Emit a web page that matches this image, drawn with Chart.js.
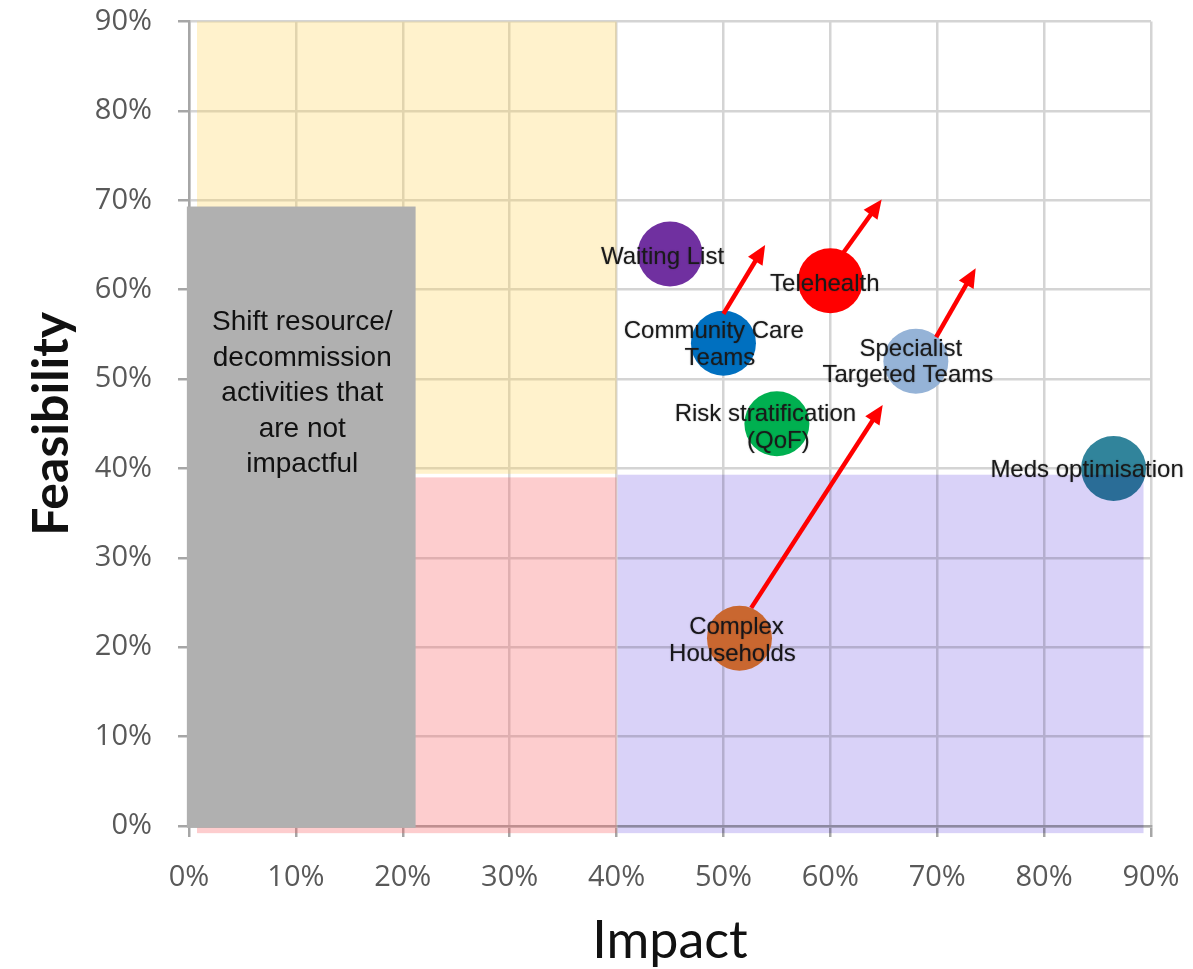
<!DOCTYPE html>
<html>
<head>
<meta charset="utf-8">
<title>Impact vs Feasibility</title>
<script src="https://cdn.jsdelivr.net/npm/chart.js@4.4.1/dist/chart.umd.min.js"></script>
<style>
  html, body { margin: 0; padding: 0; background: #ffffff; }
  #wrap { width: 1193px; height: 969px; }
</style>
</head>
<body>
<div id="wrap"><canvas id="matrix" width="1193" height="969"></canvas></div>
<script>
// ---- Data -----------------------------------------------------------------
const initiatives = ['Waiting List', 'Telehealth', 'Community Care Teams', 'Specialist Targeted Teams',
                     'Risk stratification (QoF)', 'Meds optimisation', 'Complex Households'];
const labelLines = [['Waiting List'], ['Telehealth'], ['Community Care', 'Teams'], ['Specialist', 'Targeted Teams'],
                    ['Risk stratification', '(QoF)'], ['Meds optimisation'], ['Complex', 'Households']];
const impact      = [45, 60, 50, 68, 55, 86.5, 51.5];   // % impact
const feasibility = [64, 61, 54, 52, 45, 40, 21];       // % feasibility

// Direction-of-travel arrows (start -> end, in % units)
const arrowFromImpact = [50.0, 61.2, 69.9, 52.6];
const arrowFromFeas   = [57.3, 64.1, 54.7, 24.4];
const arrowToImpact   = [53.9, 64.8, 73.6, 64.9];
const arrowToFeas     = [65.0, 70.1, 62.4, 47.1];

// Quadrant zones (in % units): low-impact/high-feasibility, low/low, high-impact/low-feasibility
const zoneImpactFrom = [0.75, 0.75, 40.1];
const zoneImpactTo   = [40.0, 40.0, 89.3];
const zoneFeasFrom   = [39.4, -0.8, -0.8];
const zoneFeasTo     = [90.0, 39.0, 39.3];

// Decommission panel (in % units) and its wording
const shiftImpact = [-0.2, 21.2];
const shiftFeas   = [-0.2, 69.3];
const shiftText   = ['Shift resource/', 'decommission', 'activities that', 'are not', 'impactful'];

const tickValues  = [0, 10, 20, 30, 40, 50, 60, 70, 80, 90];
const xTickLabels = ['0%', '10%', '20%', '30%', '40%', '50%', '60%', '70%', '80%', '90%'];
const yTickLabels = ['0%', '10%', '20%', '30%', '40%', '50%', '60%', '70%', '80%', '90%'];

// ---- Styling --------------------------------------------------------------
const bubbleColours = ['#7030A0', '#FF0000', '#0070C0', '#95B3D7', '#00B050', '#31849B', '#ED7D31'];
const BUBBLE_RADIUS = 32.5;
// per-line label nudges (px) relative to the bubble centre
const labelNudge = [
  [[-7.5, 3.5]],
  [[-5.5, 4]],
  [[-9.7, -12.3], [-3.5, 15]],
  [[-5, -12.2], [-8, 14.5]],
  [[-11.5, -9], [1.5, 17.6]],
  [[-26.5, 2]],
  [[-3, -11.3], [-7, 16]]
];
const zoneFills = ['rgba(255,212,85,0.30)', 'rgba(248,88,92,0.30)', 'rgb(217,210,248)'];
const zoneBlend = ['source-over', 'source-over', 'multiply'];

const px = (chart, v) => chart.scales.x.getPixelForValue(v);
const py = (chart, v) => chart.scales.y.getPixelForValue(v);

function fillZone(chart, i) {
  const ctx = chart.ctx;
  const x0 = px(chart, zoneImpactFrom[i]), x1 = px(chart, zoneImpactTo[i]);
  const y0 = py(chart, zoneFeasTo[i]), y1 = py(chart, zoneFeasFrom[i]);
  ctx.save();
  ctx.globalCompositeOperation = zoneBlend[i];
  ctx.fillStyle = zoneFills[i];
  ctx.fillRect(x0, y0, x1 - x0, y1 - y0);
  ctx.restore();
}

function drawArrow(ctx, x0, y0, x1, y1) {
  const ang = Math.atan2(y1 - y0, x1 - x0);
  const head = 19, half = 8.5;
  const bx = x1 - head * Math.cos(ang), by = y1 - head * Math.sin(ang);
  ctx.strokeStyle = '#FF0000';
  ctx.fillStyle = '#FF0000';
  ctx.lineWidth = 4.5;
  ctx.lineCap = 'butt';
  ctx.beginPath();
  ctx.moveTo(x0, y0);
  ctx.lineTo(bx + 2 * Math.cos(ang), by + 2 * Math.sin(ang));
  ctx.stroke();
  ctx.beginPath();
  ctx.moveTo(x1, y1);
  ctx.lineTo(bx + half * Math.sin(ang), by - half * Math.cos(ang));
  ctx.lineTo(bx - half * Math.sin(ang), by + half * Math.cos(ang));
  ctx.closePath();
  ctx.fill();
}

const matrixPlugin = {
  id: 'matrixLayers',
  beforeDatasetsDraw(chart) {
    fillZone(chart, 0);
    fillZone(chart, 1);
  },
  afterDatasetsDraw(chart) {
    const ctx = chart.ctx;
    const meta = chart.getDatasetMeta(0);
    ctx.save();

    // bubble captions
    ctx.font = '24px "Liberation Sans", Arial, sans-serif';
    ctx.textAlign = 'center';
    ctx.textBaseline = 'middle';
    ctx.fillStyle = '#1a1a1a';
    ctx.shadowColor = 'rgba(0,0,0,0.4)';
    ctx.shadowBlur = 1.5;
    labelLines.forEach((lines, i) => {
      const el = meta.data[i];
      lines.forEach((t, j) => {
        const [dx, dy] = labelNudge[i][j];
        ctx.fillText(t, el.x + dx, el.y + dy);
      });
    });
    ctx.shadowBlur = 0;
    ctx.shadowColor = 'transparent';

    // high-impact / low-feasibility wash sits over the marks
    fillZone(chart, 2);

    // arrows
    arrowFromImpact.forEach((_, i) => {
      drawArrow(ctx, px(chart, arrowFromImpact[i]), py(chart, arrowFromFeas[i]),
                     px(chart, arrowToImpact[i]), py(chart, arrowToFeas[i]));
    });

    // decommission panel
    const gx0 = px(chart, shiftImpact[0]), gx1 = px(chart, shiftImpact[1]);
    const gy0 = py(chart, shiftFeas[1]), gy1 = py(chart, shiftFeas[0]);
    ctx.fillStyle = '#B0B0B0';
    ctx.fillRect(gx0, gy0, gx1 - gx0, gy1 - gy0);
    ctx.fillStyle = '#111111';
    ctx.font = '28px "Liberation Sans", Arial, sans-serif';
    ctx.textAlign = 'center';
    ctx.textBaseline = 'middle';
    shiftText.forEach((t, j) => {
      ctx.fillText(t, (gx0 + gx1) / 2 + 1, gy0 + 116 + j * 35.5);
    });
    ctx.restore();
  }
};

const tickFont = { family: '"Open Sans", sans-serif', size: 29 };
const noScalePadding = (s) => { s.paddingTop = 0; s.paddingBottom = 0; s.paddingLeft = 0; s.paddingRight = 0; };

new Chart(document.getElementById('matrix'), {
  type: 'bubble',
  data: {
    datasets: [{
      label: 'Initiatives',
      data: impact.map((x, i) => ({ x: x, y: feasibility[i], r: BUBBLE_RADIUS })),
      backgroundColor: bubbleColours,
      borderWidth: 0,
      hoverBorderWidth: 0,
      hoverRadius: 0
    }]
  },
  options: {
    responsive: false,
    animation: false,
    devicePixelRatio: 1,
    events: [],
    layout: { autoPadding: false, padding: { top: 21.5, right: 42, left: 0, bottom: 0 } },
    plugins: { legend: { display: false }, tooltip: { enabled: false } },
    scales: {
      x: {
        type: 'linear', min: 0, max: 90,
        afterBuildTicks: (s) => { s.ticks = tickValues.map(v => ({ value: v })); },
        afterFit: (s) => { s.height = 143; noScalePadding(s); },
        ticks: { callback: (v, i) => xTickLabels[i], font: tickFont, color: '#595959',
                 padding: 23, maxRotation: 0, autoSkip: false },
        grid: { color: '#D4D4D4', lineWidth: 2.5, tickLength: 11, tickColor: '#A6A6A6' },
        border: { color: '#A6A6A6', width: 2.5 },
        title: { display: true, text: 'Impact', color: '#111111',
                 font: { family: 'Lato, sans-serif', size: 52 }, padding: { top: 0, bottom: -3 } }
      },
      y: {
        type: 'linear', min: 0, max: 90,
        afterBuildTicks: (s) => { s.ticks = tickValues.map(v => ({ value: v })); },
        afterFit: (s) => { s.width = 189; noScalePadding(s); },
        ticks: { callback: (v, i) => yTickLabels[i], font: tickFont, color: '#595959',
                 padding: 26, autoSkip: false },
        grid: { color: '#D4D4D4', lineWidth: 2.5, tickLength: 11, tickColor: '#A6A6A6' },
        border: { color: '#A6A6A6', width: 2.5 },
        title: { display: true, text: 'Feasibility', color: '#111111',
                 font: { family: 'Lato, sans-serif', size: 50, weight: 'bold' }, padding: { top: 22, bottom: 0 } }
      }
    }
  },
  plugins: [matrixPlugin]
});
</script>
</body>
</html>
